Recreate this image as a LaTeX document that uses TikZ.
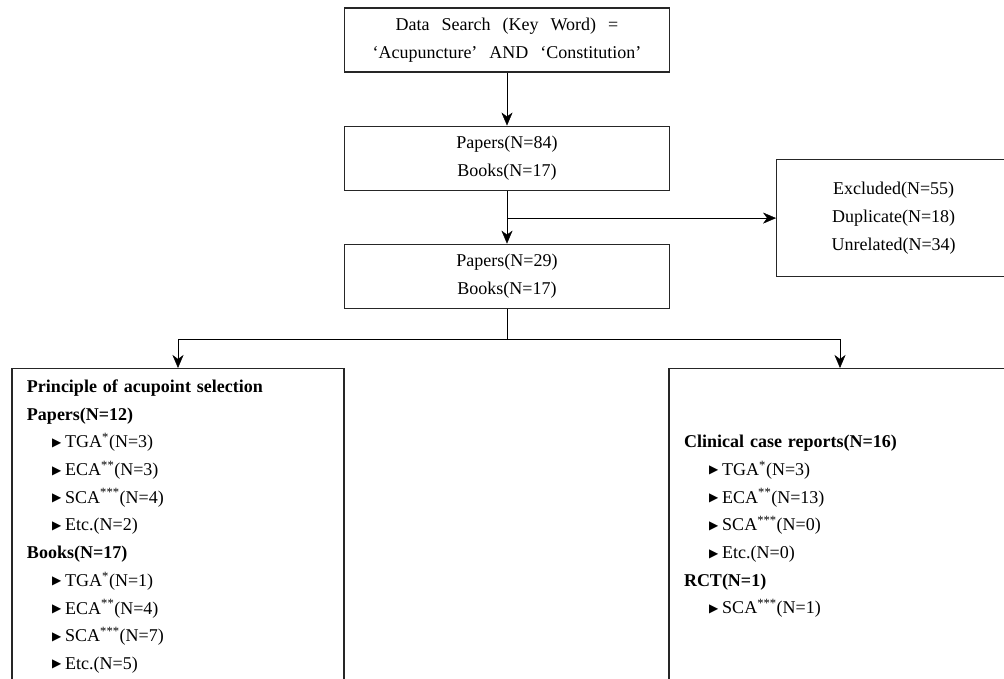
\documentclass[tikz,border=0pt]{standalone}
\usepackage{fontspec}
\setmainfont{Liberation Serif}
\newfontfamily\symfont{DejaVu Sans}
\usetikzlibrary{positioning,arrows.meta,calc}

\newcommand{\subrow}[1]{\hspace*{25pt}\raisebox{1.5pt}{\symfont\fontsize{12}{12}\selectfont ▶}\hspace{4pt}#1}

\begin{document}
\begin{tikzpicture}[
  x=1pt, y=1pt,
  font=\fontsize{18}{27.7}\selectfont,
  box/.style={draw=black!85, line width=1.1pt, align=center, inner sep=0pt},
  stepbox/.style={box, minimum width=325pt, minimum height=64pt},
  outbox/.style={box, minimum width=234pt, minimum height=117pt},
  listbox/.style={box, anchor=north, align=left, minimum height=316pt, inner xsep=15pt},
  >={Stealth[length=13pt,width=11pt,inset=4pt]}
]
  \useasboundingbox (0,0) rectangle (1004,678);
  \clip (0,0) rectangle (1004,678);

  \node[stepbox, font={\fontsize{18}{27.7}\selectfont\spaceskip=12pt\relax}] (search) at (507,638)
       {Data Search (Key Word) =\\`Acupuncture' AND `Constitution'};
  \node[stepbox, below=53pt of search] (pool) {Papers(N=84)\\Books(N=17)};
  \node[stepbox, below=53pt of pool] (screened) {Papers(N=29)\\Books(N=17)};
  \node[outbox, right=106pt of pool, yshift=-60pt] (excluded)
       {Excluded(N=55)\\Duplicate(N=18)\\Unrelated(N=34)};

  \node[listbox, text width=302pt] (principle) at (178,310) {%
    \textbf{Principle of acupoint selection}\\
    \textbf{Papers(N=12)}\\
    \subrow{TGA\textsuperscript{*}(N=3)}\\
    \subrow{ECA\textsuperscript{**}(N=3)}\\
    \subrow{SCA\textsuperscript{***}(N=4)}\\
    \subrow{Etc.(N=2)}\\
    \textbf{Books(N=17)}\\
    \subrow{TGA\textsuperscript{*}(N=1)}\\
    \subrow{ECA\textsuperscript{**}(N=4)}\\
    \subrow{SCA\textsuperscript{***}(N=7)}\\
    \subrow{Etc.(N=5)}};
  \node[listbox, text width=312pt] (clinical) at (840,310) {%
    \textbf{Clinical case reports(N=16)}\\
    \subrow{TGA\textsuperscript{*}(N=3)}\\
    \subrow{ECA\textsuperscript{**}(N=13)}\\
    \subrow{SCA\textsuperscript{***}(N=0)}\\
    \subrow{Etc.(N=0)}\\
    \textbf{RCT(N=1)}\\
    \subrow{SCA\textsuperscript{***}(N=1)}};

  \coordinate (split) at (pool.south |- excluded.west);
  \coordinate (fork) at ($(screened.south)+(0,-30pt)$);

  \draw[->] (search) -- (pool);
  \draw[->] (pool) -- (screened);
  \draw[->] (split) -- (excluded);
  \draw[->] (screened.south) -- (fork) -| (principle.north);
  \draw[->] (fork) -| (clinical.north);
\end{tikzpicture}
\end{document}
